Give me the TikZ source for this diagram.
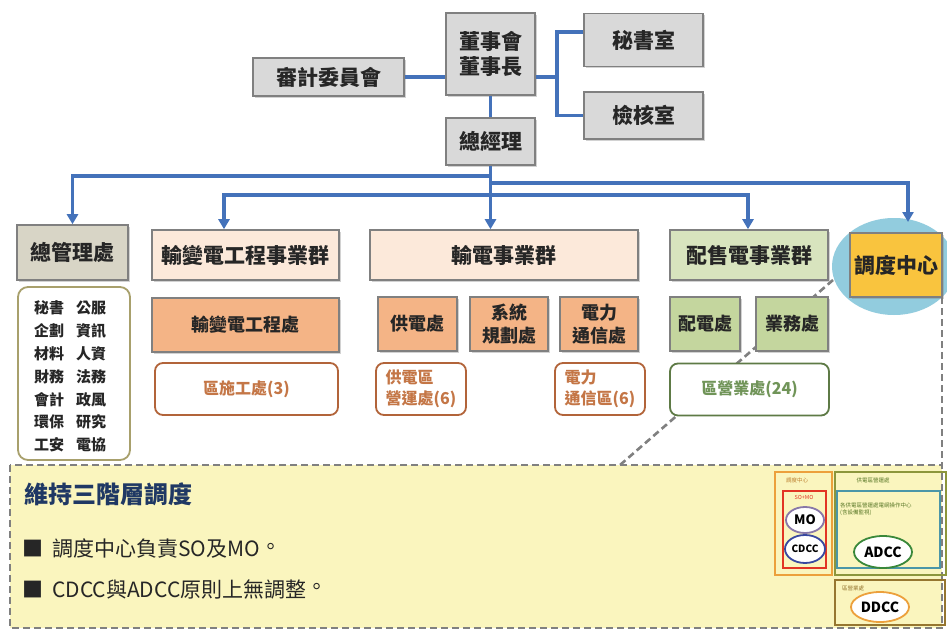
\documentclass[tikz,border=0pt]{standalone}
\usepackage{fontspec}
\newfontfamily\cjk[Language=Chinese Traditional]{Noto Sans CJK TC}
\usetikzlibrary{arrows.meta,shadows,shapes.geometric}
\newcommand{\tcperiod}{\hspace{0.02em}\raisebox{0.1em}{。}}
\definecolor{boxborder}{RGB}{128,128,128}
\definecolor{txt}{RGB}{38,38,38}
\definecolor{grayfill}{RGB}{217,217,217}
\definecolor{tanfill}{RGB}{216,213,198}
\definecolor{peachfill}{RGB}{252,233,218}
\definecolor{orangefill}{RGB}{244,180,134}
\definecolor{lgreenfill}{RGB}{216,228,190}
\definecolor{greenfill}{RGB}{196,214,158}
\definecolor{goldfill}{RGB}{249,196,62}
\definecolor{cyanfill}{RGB}{146,204,222}
\definecolor{lineblue}{RGB}{68,114,186}
\definecolor{brownline}{RGB}{178,100,58}
\definecolor{browntext}{RGB}{196,118,70}
\definecolor{dgreenline}{RGB}{94,122,70}
\definecolor{greentext}{RGB}{112,148,88}
\definecolor{oliveline}{RGB}{168,160,108}
\definecolor{yellowfill}{RGB}{250,245,190}
\definecolor{dashgray}{RGB}{128,128,128}
\definecolor{navy}{RGB}{31,56,100}
\definecolor{miniorange}{RGB}{236,160,60}
\definecolor{minired}{RGB}{226,52,36}
\definecolor{minipurple}{RGB}{136,120,168}
\definecolor{miniblue}{RGB}{56,72,160}
\definecolor{miniolive}{RGB}{140,150,60}
\definecolor{miniteal}{RGB}{74,150,168}
\definecolor{minigreen}{RGB}{58,136,58}
\definecolor{minibrown}{RGB}{150,118,48}
\definecolor{minitext}{RGB}{90,120,40}
\tikzset{
  shad/.style={drop shadow={shadow xshift=1.8pt,shadow yshift=-1.8pt,opacity=0.35}},
  basebox/.style={draw=boxborder,line width=1.6pt,inner sep=0pt,align=center,text=txt},
  topbox/.style={basebox,fill=grayfill,shad,font=\cjk\bfseries\fontsize{21}{25}\selectfont},
  grpbox/.style={basebox,shad,font=\cjk\bfseries\fontsize{21}{25}\selectfont,minimum height=50pt},
  subbox/.style={basebox,shad,font=\cjk\bfseries\fontsize{18}{23}\selectfont,minimum height=54pt},
  regbox/.style={draw,rounded corners=8pt,line width=1.8pt,fill=white,inner sep=0pt,align=left,font=\cjk\bfseries\fontsize{16}{21}\selectfont,minimum height=52pt},
  conn/.style={draw=lineblue,line width=3.3pt},
  arr/.style={conn,-{Triangle[length=10pt,width=11pt]}},
  dashline/.style={draw=dashgray,line width=2.6pt,dash pattern=on 7pt off 4pt},
  minilabel/.style={inner sep=0pt,font=\cjk\fontsize{5.5}{6.5}\selectfont},
  miniell/.style={ellipse,fill=white,line width=1.8pt,inner sep=0pt,font=\cjk\bfseries},
}
\begin{document}
\begin{tikzpicture}[x=1pt,y=-1pt]
\useasboundingbox (0,0) rectangle (947,631);
\clip (0,0) rectangle (947,631);
\fill[white] (0,0) rectangle (947,631);

% dispatch highlight ellipse
\node[ellipse,fill=cyanfill,minimum width=124pt,minimum height=97pt,inner sep=0pt] (ell) at (894,266.5) {};

% bottom yellow callout
\draw[dashline,fill=yellowfill] (10,465) rectangle (942,628);
\coordinate (dg1) at (833,280);
\coordinate (dg2) at (620,465);
\coordinate (dr1) at (942,297);
\coordinate (dr2) at (942,465);
\draw[dashline] (dg1) -- (dg2);
\draw[dashline] (dr1) -- (dr2);

% top level
\node[topbox,minimum width=89pt,minimum height=82pt] (chair) at (490.5,54) {董事會\\董事長};
\node[topbox,minimum width=151pt,minimum height=38pt] (audit) at (328.5,77) {審計委員會};
\node[topbox,minimum width=119pt,minimum height=53pt] (sec) at (643.5,40) {秘書室};
\node[topbox,minimum width=119pt,minimum height=47pt] (chk) at (643.5,115.5) {檢核室};
\node[topbox,minimum width=89pt,minimum height=47pt] (gm) at (490.5,141.5) {總經理};

\coordinate (br) at (557,77);
\draw[conn] (audit.east) -- (audit.east -| chair.west);
\draw[conn] (chair.east |- audit.east) -- (br);
\draw[conn] ([yshift=8pt]sec.west) -| (br) |- (chk.west);
\draw[conn] (chair.south) -- (gm.north);

% level 2
\node[grpbox,fill=tanfill,minimum width=111pt,minimum height=55pt] (gmo) at (72.5,252.5) {總管理處};
\node[grpbox,fill=peachfill,minimum width=187pt] (tsg) at (245.5,255) {輸變電工程事業群};
\node[grpbox,fill=peachfill,minimum width=268pt] (tg) at (504,255) {輸電事業群};
\node[grpbox,fill=lgreenfill,minimum width=158pt] (dg) at (749,255) {配售電事業群};
\node[grpbox,fill=goldfill,minimum width=92pt,minimum height=64pt] (disp) at (896,265) {調度中心};

% bus connectors
\coordinate (b1) at (490.5,176);
\coordinate (b2) at (490.5,183);
\coordinate (b3) at (490.5,195);
\coordinate (dtop) at (908,222);
\draw[arr] (gm.south) -- (gm.south |- tg.north);
\draw[arr] (b1) -| (gmo.north);
\draw[arr] (b2) -| (dtop);
\draw[arr] (b3) -| ([xshift=-21.5pt]tsg.north);
\draw[arr] (b3) -| ([xshift=-1pt]dg.north);

% level 3
\node[draw=oliveline,rounded corners=10pt,line width=1.8pt,fill=white,minimum width=112pt,minimum height=173pt] (gmol) at (74,373.5) {};
\node[inner sep=0pt,align=left,text=txt,font=\cjk\bfseries\fontsize{15}{22.8}\selectfont] (gmot) at (70,376.5)
  {秘書\hspace{12pt}公服\\企劃\hspace{12pt}資訊\\材料\hspace{12pt}人資\\財務\hspace{12pt}法務\\會計\hspace{12pt}政風\\環保\hspace{12pt}研究\\工安\hspace{12pt}電協};

\node[subbox,fill=orangefill,minimum width=187pt] (tse) at (245.5,325) {輸變電工程處};
\node[subbox,fill=orangefill,minimum width=79pt] (sup) at (417.5,324) {供電處};
\node[subbox,fill=orangefill,minimum width=78pt] (plan) at (509,324) {系統\\規劃處};
\node[subbox,fill=orangefill,minimum width=78pt] (comm) at (599,324) {電力\\通信處};
\node[subbox,fill=greenfill,minimum width=70pt] (dist) at (705,324) {配電處};
\node[subbox,fill=greenfill,minimum width=72pt] (biz) at (792,324) {業務處};

% level 4
\node[regbox,draw=brownline,text=browntext,minimum width=183pt] (r1) at (246.5,389) {區施工處(3)};
\node[regbox,draw=brownline,text=browntext,minimum width=90pt] (r2) at (421,389) {供電區\\營運處(6)};
\node[regbox,draw=brownline,text=browntext,minimum width=90pt] (r3) at (600,389) {電力\\通信區(6)};
\node[regbox,draw=dgreenline,text=greentext,minimum width=159pt] (r4) at (749.5,389.5) {區營業處(24)};

% yellow box text
\node[anchor=west,inner sep=0pt,text=navy,font=\cjk\bfseries\fontsize{24}{28}\selectfont] (title) at (24,494) {維持三階層調度};
\node[anchor=west,inner sep=0pt,text=txt,font=\cjk\fontsize{21}{25}\selectfont] (bul1) at (22,549) {■\hspace{9pt}調度中心負責SO及MO\tcperiod};
\node[anchor=west,inner sep=0pt,text=txt,font=\cjk\fontsize{21}{25}\selectfont] (bul2) at (22,589) {■\hspace{9pt}CDCC與ADCC原則上無調整\tcperiod};

% mini diagram
\draw[miniorange,line width=1.8pt] (775,472) rectangle (832,575);
\node[minilabel,text=miniorange!80!black] (ml1) at (797,480) {調度中心};
\draw[minired,line width=1.4pt] (783,491) rectangle (826,568);
\node[minilabel,text=minired] (ml2) at (804,497) {SO+MO};
\node[miniell,draw=minipurple,minimum width=38pt,minimum height=26pt,font=\cjk\bfseries\fontsize{13}{14}\selectfont] (mo) at (805,520) {MO};
\node[miniell,draw=miniblue,minimum width=40pt,minimum height=28pt,font=\cjk\bfseries\fontsize{10}{11}\selectfont] (cdcc) at (805,549) {CDCC};

\draw[miniolive,line width=1.8pt] (835,472) rectangle (946,575);
\node[minilabel,text=minitext] (ml3) at (873,480) {供電區營運處};
\draw[miniteal,line width=1.8pt] (837,491) rectangle (940,568);
\node[minilabel,text=minitext,anchor=west,align=left] (ml4) at (840,509) {各供電區營運處電網操作中心\\(含設備監視)};
\node[miniell,draw=minigreen,minimum width=58pt,minimum height=32pt,font=\cjk\bfseries\fontsize{14}{15}\selectfont] (adcc) at (883,552) {ADCC};

\draw[minibrown,line width=1.8pt] (835,580) rectangle (945,625);
\node[minilabel,text=minibrown,anchor=west] (ml5) at (842,588) {區營業處};
\node[miniell,draw=miniorange,minimum width=58pt,minimum height=30pt,font=\cjk\bfseries\fontsize{14}{15}\selectfont] (ddcc) at (880,607) {DDCC};
\end{tikzpicture}
\end{document}
